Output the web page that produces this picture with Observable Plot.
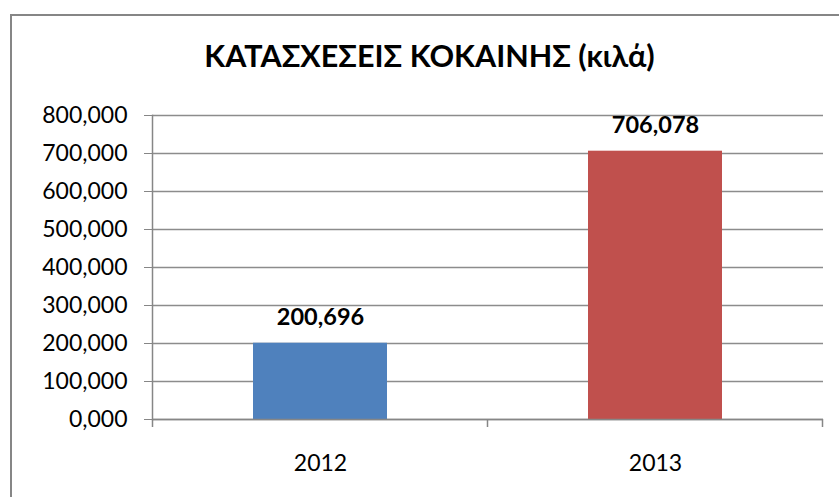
<!DOCTYPE html>
<html>
<head>
<meta charset="utf-8">
<script src="https://cdn.jsdelivr.net/npm/d3@7"></script>
<script src="https://cdn.jsdelivr.net/npm/@observablehq/plot@0.6"></script>
<style>
  html, body { margin: 0; padding: 0; background: #fff; }
  #wrap { position: relative; width: 839px; height: 497px; overflow: hidden; }
  #border { position: absolute; left: 10px; top: 14px; width: 900px; height: 600px;
            border-left: 2px solid #868686; border-top: 2px solid #868686; box-sizing: border-box; }
  #chart { position: absolute; left: 0; top: 0; }
</style>
</head>
<body>
<div id="wrap"><div id="border"></div><div id="chart"></div></div>
<script>
const years = ["2012", "2013"];
const values = [200.696, 706.078];
const colors = ["#4F81BD", "#C0504D"];
const yTicks = [0, 100, 200, 300, 400, 500, 600, 700, 800];
const title = "ΚΑΤΑΣΧΕΣΕΙΣ ΚΟΚΑΙΝΗΣ (κιλά)";

const data = years.map((y, i) => ({year: y, value: values[i], color: colors[i]}));
const fmt = d => d.toFixed(3).replace(".", ",");
const FONT = "Lato, 'Open Sans', sans-serif";

const boundaryTicks = (index, scales, values, dims) => {
  const x = scales.x, y = scales.y;
  const step = x.step(), bw = x.bandwidth();
  const xs = years.map(d => x(d) - (step - bw) / 2);
  xs.push(x(years[years.length - 1]) + bw + (step - bw) / 2);
  const y0 = y(0);
  const g = d3.create("svg:g");
  g.selectAll("line").data(xs).join("line")
    .attr("x1", d => d).attr("x2", d => d)
    .attr("y1", y0).attr("y2", y0 + 8)
    .attr("stroke", "#868686").attr("stroke-width", 1.5);
  return g.node();
};

const chart = Plot.plot({
  width: 839,
  height: 497,
  marginLeft: 152,
  marginRight: 16,
  marginTop: 115,
  marginBottom: 78,
  style: {fontFamily: FONT, background: "transparent", color: "#000"},
  x: {domain: years, paddingInner: 0.6, paddingOuter: 0.3, label: null},
  y: {domain: [0, 800], label: null},
  marks: [
    Plot.ruleY(yTicks, {stroke: "#8c8c8c", strokeWidth: 1.3}),
    Plot.barY(data, {x: "year", y: "value", fill: "color"}),
    Plot.ruleY([0], {stroke: "#868686", strokeWidth: 1.5}),
    Plot.frame({anchor: "left", stroke: "#868686", strokeWidth: 1.5}),
    boundaryTicks,
    Plot.axisY({ticks: yTicks, tickFormat: fmt, tickSize: 8, tickPadding: 17,
                stroke: "#868686", fontSize: 23, fill: "#000", label: null}),
    Plot.axisX({tickSize: 0, tickPadding: 35, fontSize: 23, fill: "#000", label: null}),
    Plot.text(data, {x: "year", y: "value", text: d => fmt(d.value), dy: -18,
                     lineAnchor: "bottom", fontSize: 23.5, fontWeight: "bold", fill: "#000"}),
    Plot.text([title], {frameAnchor: "top-left", text: d => d, dx: 429 - 152, dy: -58,
                        textAnchor: "middle", lineAnchor: "middle", fontSize: 30.5,
                        fontWeight: "bold", fill: "#000"})
  ]
});
document.getElementById("chart").appendChild(chart);
</script>
</body>
</html>
